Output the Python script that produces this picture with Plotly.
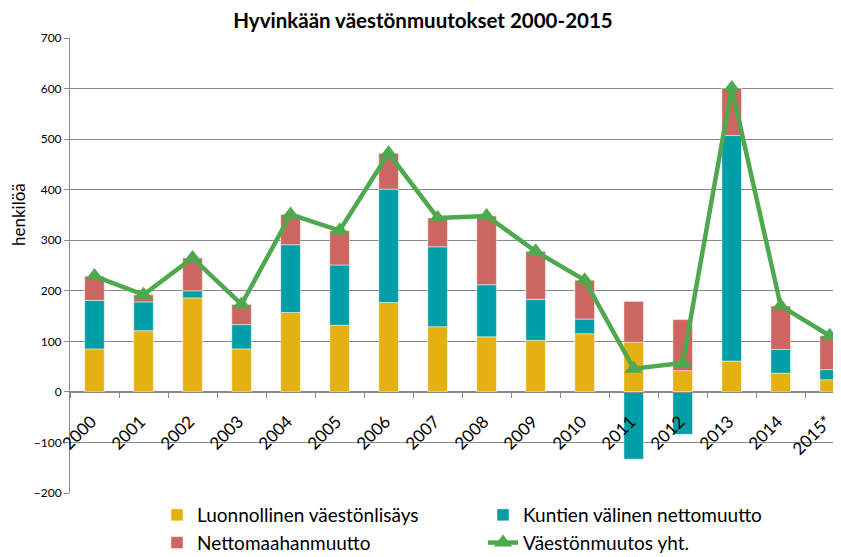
import plotly.graph_objects as go

years = ["2000", "2001", "2002", "2003", "2004", "2005", "2006", "2007",
         "2008", "2009", "2010", "2011", "2012", "2013", "2014", "2015*"]
natural = [85, 121, 186, 85, 157, 132, 177, 129, 109, 102, 115, 98, 42, 61, 37, 24]
municipal = [96, 57, 14, 48, 134, 119, 224, 158, 103, 81, 29, -133, -84, 446, 47, 20]
immigration = [48, 14, 65, 40, 60, 68, 71, 57, 136, 95, 77, 81, 101, 94, 86, 67]
total = [229, 192, 265, 173, 351, 319, 472, 344, 348, 278, 221, 46, 57, 601, 170, 111]

FONT = "Lato"
bar_line = dict(width=0.8, color="rgba(255,255,255,0.6)")

fig = go.Figure()
fig.add_trace(go.Bar(x=years, y=natural, name="Luonnollinen väestönlisäys",
                     marker=dict(color="#E5B012", line=bar_line), width=0.4,
                     legend="legend"))
fig.add_trace(go.Bar(x=years, y=municipal, name="Kuntien välinen nettomuutto",
                     marker=dict(color="#009EA6", line=bar_line), width=0.4,
                     legend="legend2"))
fig.add_trace(go.Bar(x=years, y=immigration, name="Nettomaahanmuutto",
                     marker=dict(color="#CC6660", line=bar_line), width=0.4,
                     legend="legend"))
fig.add_trace(go.Scatter(x=years, y=total, name="Väestönmuutos yht.",
                         mode="lines+markers",
                         line=dict(color="#4EA94E", width=4.5),
                         marker=dict(symbol="triangle-up", size=16, color="#4EA94E"),
                         legend="legend2"))

grid = "#8a8a8a"
# plot area: 62..833 (x), 30..485 (y) in figure pixels
fig.update_layout(
    width=841, height=557,
    margin=dict(l=62, r=8, t=30, b=72, autoexpand=False),
    paper_bgcolor="white", plot_bgcolor="white",
    barmode="relative",
    font=dict(family=FONT, color="black"),
    title=dict(text="<b>Hyvinkään väestönmuutokset 2000-2015</b>",
               x=415/841, xref="container", xanchor="center",
               y=1-12.5/557, yref="container", yanchor="middle",
               font=dict(size=20.5, family=FONT)),
    xaxis=dict(type="category", range=[-0.5, 15.23], automargin=False,
               anchor="free", position=101/455,
               showline=True, linecolor=grid, linewidth=1,
               ticks="outside", tickson="boundaries", ticklen=5, tickcolor=grid,
               tickangle=-45, tickfont=dict(size=17, family=FONT),
               ticklabelstandoff=12, ticklabelshift=-3,
               showgrid=False),
    yaxis=dict(range=[-200, 700], dtick=100, showgrid=True, gridcolor=grid,
               automargin=False,
               gridwidth=1, zeroline=False, showline=True, linecolor=grid,
               ticks="outside", ticklen=5, tickcolor=grid,
               tickfont=dict(size=12, family=FONT)),
    legend=dict(x=(149-62)/771, y=-3/455, xanchor="left", yanchor="top",
                orientation="v", font=dict(size=19, family=FONT),
                bgcolor="rgba(0,0,0,0)", traceorder="normal"),
    legend2=dict(x=(475-62)/771, y=-3/455, xanchor="left", yanchor="top",
                 orientation="v", font=dict(size=19, family=FONT),
                 bgcolor="rgba(0,0,0,0)", traceorder="normal"),
    bargap=0.6,
    annotations=[dict(text="henkilöä", textangle=-90, showarrow=False,
                      xref="paper", yref="paper",
                      x=(11-62)/771, y=(485-207)/455,
                      xanchor="center", yanchor="middle",
                      font=dict(size=17, family=FONT))],
)

fig.write_html("out.html")
